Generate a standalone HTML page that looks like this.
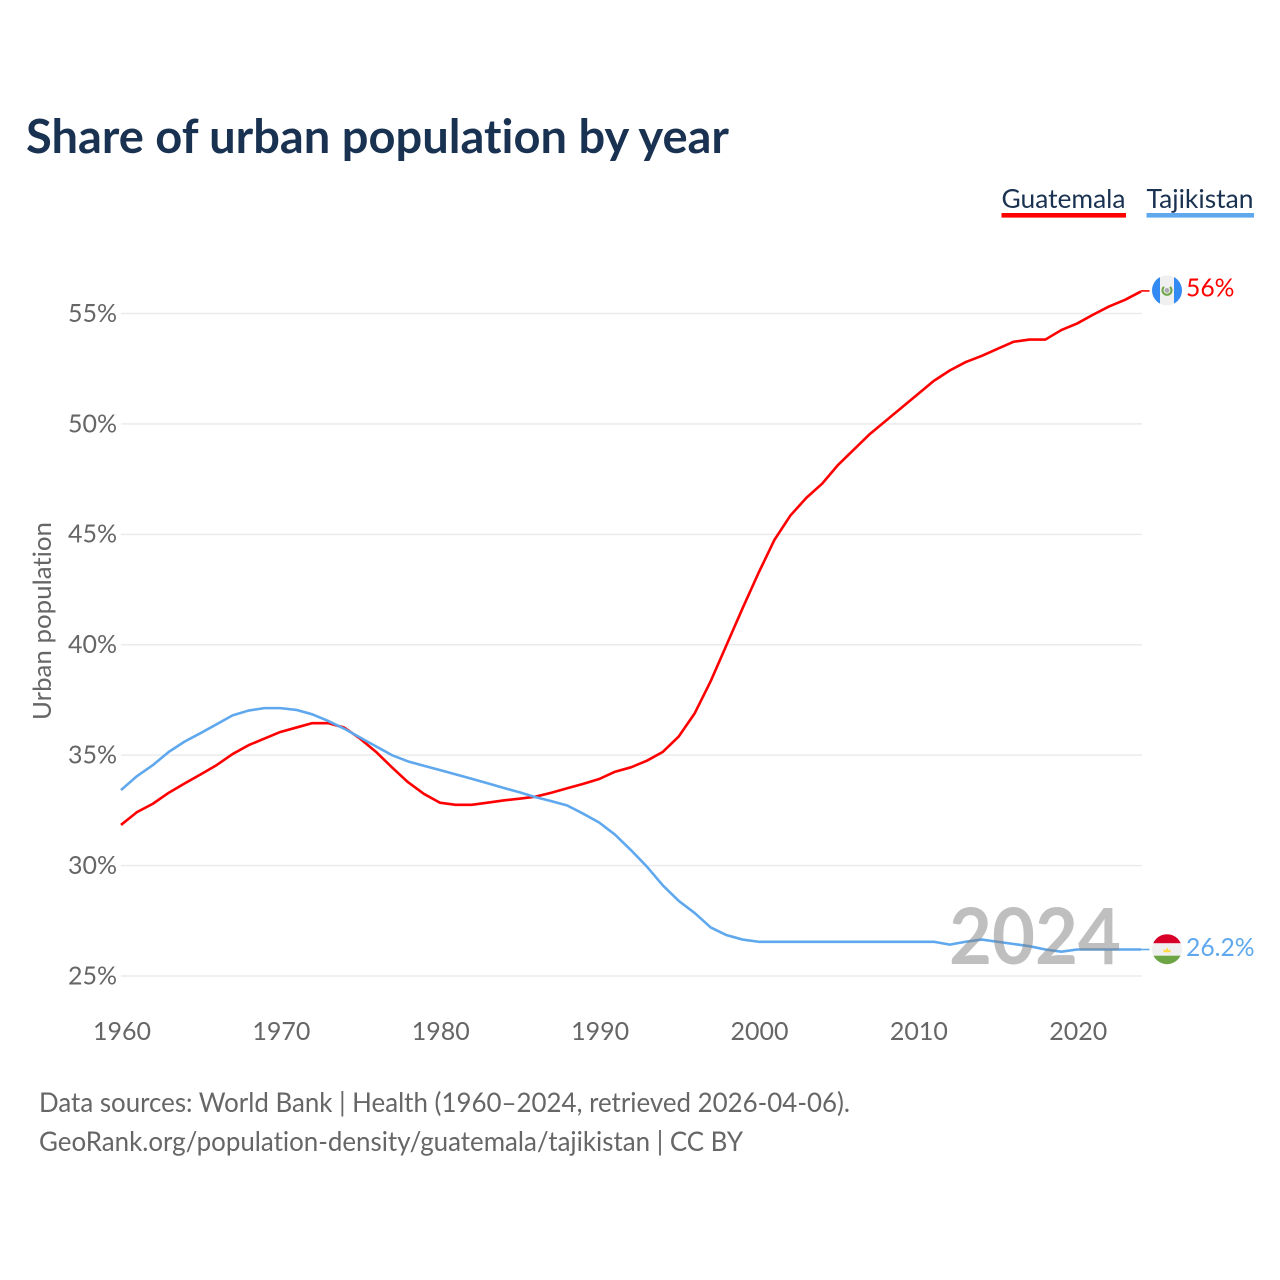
<!DOCTYPE html>
<html lang="en">
<head>
<meta charset="utf-8">
<title>Share of urban population by year</title>
<style>
html,body{margin:0;padding:0;background:#fff;width:1280px;height:1280px;overflow:hidden}
svg{display:block}
text{font-family:"Lato","Carlito","Liberation Sans",sans-serif;font-variant-ligatures:none;font-feature-settings:"liga" 0,"clig" 0}
</style>
</head>
<body>
<svg id="chart" xmlns="http://www.w3.org/2000/svg" width="1280" height="1280" viewBox="0 0 1280 1280">
  <text x="26" y="153" font-size="46.5" font-weight="700" fill="#1a3251" textLength="703" lengthAdjust="spacingAndGlyphs">Share of urban population by year</text>
  <g>
    <g>
      <text x="1001.5" y="208" font-size="26" fill="#1a3251" textLength="124" lengthAdjust="spacingAndGlyphs">Guatemala</text>
      <rect x="1001.5" y="213" width="124.5" height="4.6" fill="#ff0000"/>
    </g>
    <g>
      <text x="1146.5" y="208" font-size="26" fill="#1a3251" textLength="107" lengthAdjust="spacingAndGlyphs">Tajikistan</text>
      <rect x="1146.5" y="213" width="107.5" height="4.6" fill="#5fa8ee"/>
    </g>
  </g>
  <text transform="translate(51,621) rotate(-90)" text-anchor="middle" font-size="25" fill="#666666" textLength="198" lengthAdjust="spacingAndGlyphs">Urban population</text>
  <g id="grid"></g>
  <g id="yticks"></g>
  <g id="xticks"></g>
  <g id="series"></g>
  <g id="flag-guatemala">
    <defs>
      <clipPath id="flag-clip"><circle cx="0" cy="0" r="15"/></clipPath>
    </defs>
    <g clip-path="url(#flag-clip)">
      <rect x="-15" y="-15" width="30" height="30" fill="#f0f0f0"/>
      <rect x="-15" y="-15" width="8" height="30" fill="#338af3"/>
      <rect x="7" y="-15" width="8" height="30" fill="#338af3"/>
      <path d="M-3 -3.5 A4.5 4.5 0 1 0 3 -3.5" fill="none" stroke="#6da544" stroke-width="2"/>
      <circle cx="0" cy="0" r="2.4" fill="#acabb1"/>
    </g>
  </g>
  <g id="flag-tajikistan">
    <g clip-path="url(#flag-clip)">
      <rect x="-15" y="-15" width="30" height="30" fill="#f0f0f0"/>
      <rect x="-15" y="-15" width="30" height="9" fill="#d80027"/>
      <rect x="-15" y="6.5" width="30" height="9" fill="#6da544"/>
      <path d="M-3.5 3 L-3.5 0 L-1.5 1.2 L0 -1.8 L1.5 1.2 L3.5 0 L3.5 3 Z" fill="#ffda44"/>
    </g>
  </g>
  <text id="label-guatemala" x="1186" font-size="24.7" fill="#ff0000"></text>
  <text id="label-tajikistan" x="1186" font-size="24.7" fill="#5fa8ee"></text>
  <text x="1121" y="964" text-anchor="end" font-size="78" font-weight="700" fill="#808080" fill-opacity="0.5" textLength="172" lengthAdjust="spacingAndGlyphs">2024</text>
  <text x="39" y="1112" font-size="27" fill="#666666" textLength="811" lengthAdjust="spacingAndGlyphs">Data sources: World Bank | Health (1960–2024, retrieved 2026-04-06).</text>
  <text x="39" y="1151" font-size="27" fill="#666666" textLength="704" lengthAdjust="spacingAndGlyphs">GeoRank.org/population-density/guatemala/tajikistan | CC BY</text>
</svg>
<script>
const years = [1960,1961,1962,1963,1964,1965,1966,1967,1968,1969,1970,1971,1972,1973,1974,1975,1976,1977,1978,1979,1980,1981,1982,1983,1984,1985,1986,1987,1988,1989,1990,1991,1992,1993,1994,1995,1996,1997,1998,1999,2000,2001,2002,2003,2004,2005,2006,2007,2008,2009,2010,2011,2012,2013,2014,2015,2016,2017,2018,2019,2020,2021,2022,2023,2024];
const guatemalaValues = [31.84,32.42,32.8,33.3,33.72,34.13,34.55,35.05,35.45,35.75,36.05,36.25,36.45,36.45,36.25,35.75,35.15,34.45,33.78,33.25,32.85,32.75,32.75,32.85,32.95,33.03,33.12,33.3,33.5,33.7,33.92,34.25,34.45,34.75,35.15,35.85,36.9,38.35,40.0,41.65,43.25,44.75,45.85,46.65,47.3,48.15,48.85,49.55,50.15,50.75,51.35,51.95,52.42,52.8,53.08,53.4,53.72,53.82,53.82,54.25,54.55,54.95,55.32,55.62,56.0];
const tajikistanValues = [33.42,34.05,34.55,35.15,35.62,36.0,36.4,36.8,37.02,37.13,37.13,37.05,36.85,36.55,36.2,35.8,35.4,35.0,34.72,34.52,34.33,34.13,33.93,33.73,33.52,33.32,33.1,32.92,32.72,32.35,31.95,31.4,30.7,29.95,29.1,28.4,27.85,27.2,26.85,26.65,26.55,26.55,26.55,26.55,26.55,26.55,26.55,26.55,26.55,26.55,26.55,26.55,26.42,26.55,26.65,26.55,26.45,26.35,26.2,26.1,26.2,26.2,26.2,26.2,26.2];
const yTickValues = [25,30,35,40,45,50,55];
const xTickValues = [1960,1970,1980,1990,2000,2010,2020];

const SVG_NS = 'http://www.w3.org/2000/svg';
function xScale(year){ return 121 + (year - 1960) * (1020 / 64); }
function yScale(value){ return 976 - (value - 25) * (662.5 / 30); }

const grid = document.getElementById('grid');
const yticks = document.getElementById('yticks');
const xticks = document.getElementById('xticks');
const series = document.getElementById('series');

yTickValues.forEach(function(v){
  const line = document.createElementNS(SVG_NS, 'line');
  
  
  line.setAttribute('x1', xScale(1960));
  line.setAttribute('x2', xScale(2024) + 1);
  line.setAttribute('y1', yScale(v));
  line.setAttribute('y2', yScale(v));
  line.setAttribute('stroke', '#ebebeb');
  line.setAttribute('stroke-width', '1.5');
  grid.appendChild(line);

  const label = document.createElementNS(SVG_NS, 'text');
  
  
  label.setAttribute('x', 117);
  label.setAttribute('y', yScale(v) + 8.4);
  label.setAttribute('text-anchor', 'end');
  label.setAttribute('font-size', '25');
  label.setAttribute('fill', '#666666');
  label.textContent = v + '%';
  yticks.appendChild(label);
});

xTickValues.forEach(function(y){
  const label = document.createElementNS(SVG_NS, 'text');
  
  
  label.setAttribute('x', xScale(y) + 1);
  label.setAttribute('y', 1040);
  label.setAttribute('text-anchor', 'middle');
  label.setAttribute('font-size', '25');
  label.setAttribute('fill', '#666666');
  label.textContent = y;
  xticks.appendChild(label);
});

function linePoints(values){
  return values.map(function(v, i){
    return xScale(years[i]).toFixed(2) + ',' + yScale(v).toFixed(2);
  }).join(' ');
}

const guatemalaLine = document.createElementNS(SVG_NS, 'polyline');


guatemalaLine.setAttribute('points', linePoints(guatemalaValues));
guatemalaLine.setAttribute('fill', 'none');
guatemalaLine.setAttribute('stroke', '#ff0000');
guatemalaLine.setAttribute('stroke-width', '2.6');
guatemalaLine.setAttribute('stroke-linejoin', 'round');
series.appendChild(guatemalaLine);

const tajikistanLine = document.createElementNS(SVG_NS, 'polyline');


tajikistanLine.setAttribute('points', linePoints(tajikistanValues));
tajikistanLine.setAttribute('fill', 'none');
tajikistanLine.setAttribute('stroke', '#5fa8ee');
tajikistanLine.setAttribute('stroke-width', '2.6');
tajikistanLine.setAttribute('stroke-linejoin', 'round');
series.appendChild(tajikistanLine);

const gLast = guatemalaValues[guatemalaValues.length - 1];
const tLast = tajikistanValues[tajikistanValues.length - 1];

const guatemalaLeader = document.createElementNS(SVG_NS, 'line');


guatemalaLeader.setAttribute('x1', xScale(2024));
guatemalaLeader.setAttribute('x2', xScale(2024) + 8.5);
guatemalaLeader.setAttribute('y1', yScale(gLast) - 0.5);
guatemalaLeader.setAttribute('y2', yScale(gLast) - 0.5);
guatemalaLeader.setAttribute('stroke', '#ff0000');
guatemalaLeader.setAttribute('stroke-width', '1.6');
series.appendChild(guatemalaLeader);

const tajikistanLeader = document.createElementNS(SVG_NS, 'line');


tajikistanLeader.setAttribute('x1', xScale(2024));
tajikistanLeader.setAttribute('x2', xScale(2024) + 8.5);
tajikistanLeader.setAttribute('y1', yScale(tLast));
tajikistanLeader.setAttribute('y2', yScale(tLast));
tajikistanLeader.setAttribute('stroke', '#5fa8ee');
tajikistanLeader.setAttribute('stroke-width', '1.6');
series.appendChild(tajikistanLeader);

document.getElementById('flag-guatemala').setAttribute('transform', 'translate(1167,' + (yScale(gLast) - 1) + ')');
document.getElementById('flag-tajikistan').setAttribute('transform', 'translate(1167,' + (yScale(tLast) - 0.3) + ')');

const gLabel = document.getElementById('label-guatemala');
gLabel.setAttribute('y', yScale(gLast) + 5);
gLabel.textContent = gLast + '%';

const tLabel = document.getElementById('label-tajikistan');
tLabel.setAttribute('y', yScale(tLast) + 6.5);
tLabel.textContent = tLast + '%';
</script>
</body>
</html>
